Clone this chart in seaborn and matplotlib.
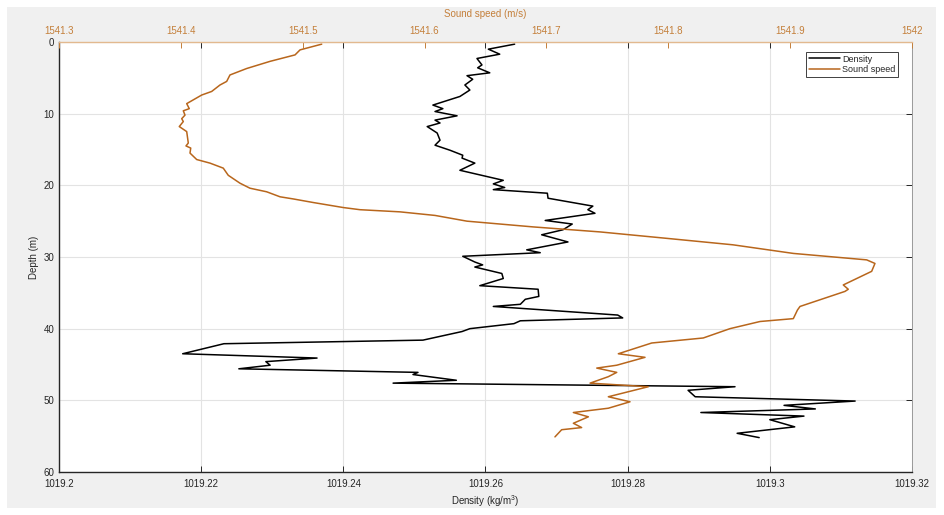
# Perfil vertical: densidad y velocidad del sonido frente a profundidad
import pandas as pd
import seaborn as sns
import matplotlib
matplotlib.use("Agg")
import matplotlib.pyplot as plt
from matplotlib.patches import Rectangle

# ---- datos ----
depth_dens = [0.3, 1.0, 1.7, 2.3, 3.2, 3.6, 4.3, 4.7, 5.2, 6.0, 6.7, 7.6, 8.8, 9.3, 9.7,
              10.3, 10.9, 11.3, 11.8, 12.7, 13.7, 14.4, 15.1, 15.8, 16.2, 16.9, 17.9,
              19.3, 19.8, 20.3, 20.6, 21.1, 21.8, 22.9, 23.4, 23.9, 24.9, 25.4, 26.2,
              26.9, 27.9, 29.0, 29.4, 29.9, 30.7, 31.1, 31.4, 32.3, 33.0, 34.0, 34.5,
              35.5, 35.9, 36.6, 36.9, 38.1, 38.5, 38.9, 39.3, 40.0, 40.4, 41.6, 42.1,
              43.5, 44.1, 44.6, 45.1, 45.6, 46.1, 46.4, 47.2, 47.6, 48.1, 48.6, 49.5,
              50.1, 50.7, 51.2, 51.7, 52.2, 52.7, 53.7, 54.6, 55.2]
density = [1019.2641, 1019.2604, 1019.2620, 1019.2588, 1019.2595, 1019.2589, 1019.2606,
           1019.2574, 1019.2582, 1019.2571, 1019.2578, 1019.2564, 1019.2526, 1019.2540,
           1019.2529, 1019.2560, 1019.2529, 1019.2536, 1019.2518, 1019.2532, 1019.2536,
           1019.2529, 1019.2550, 1019.2568, 1019.2567, 1019.2585, 1019.2564, 1019.2625,
           1019.2611, 1019.2627, 1019.2611, 1019.2687, 1019.2688, 1019.2751, 1019.2744,
           1019.2754, 1019.2684, 1019.2722, 1019.2709, 1019.2679, 1019.2716, 1019.2658,
           1019.2677, 1019.2568, 1019.2585, 1019.2596, 1019.2585, 1019.2623, 1019.2625,
           1019.2592, 1019.2674, 1019.2675, 1019.2656, 1019.2649, 1019.2611, 1019.2786,
           1019.2793, 1019.2649, 1019.2640, 1019.2578, 1019.2567, 1019.2512, 1019.2232,
           1019.2174, 1019.2363, 1019.2291, 1019.2297, 1019.2253, 1019.2505, 1019.2498,
           1019.2559, 1019.2470, 1019.2951, 1019.2885, 1019.2895, 1019.3120, 1019.3020,
           1019.3064, 1019.2903, 1019.3048, 1019.3000, 1019.3035, 1019.2954, 1019.2985]

depth_sound = [0.3, 1.1, 1.8, 2.7, 3.7, 4.6, 5.5, 6.0, 6.9, 7.4, 8.6, 9.3, 9.6, 10.2, 10.7,
               11.1, 11.8, 12.5, 14.1, 14.5, 14.8, 15.5, 16.4, 16.9, 17.6, 18.6, 19.7,
               20.4, 20.9, 21.6, 21.9, 22.4, 23.1, 23.4, 23.7, 24.2, 25.0, 25.8, 26.5,
               27.4, 28.3, 29.5, 30.4, 30.9, 32.0, 33.9, 34.5, 34.8, 36.9, 37.4, 38.6,
               39.0, 40.0, 41.3, 42.0, 43.5, 44.0, 45.1, 45.5, 46.1, 46.7, 47.6, 48.1,
               49.5, 50.2, 51.1, 51.7, 52.3, 53.2, 53.8, 54.1, 55.1]
sound_speed = [1541.5156, 1541.4978, 1541.4937, 1541.4732, 1541.4540, 1541.4403, 1541.4376,
               1541.4321, 1541.4253, 1541.4171, 1541.4048, 1541.4069, 1541.4020, 1541.4034,
               1541.4007, 1541.4020, 1541.3987, 1541.4048, 1541.4061, 1541.4042, 1541.4081,
               1541.4075, 1541.4130, 1541.4239, 1541.4348, 1541.4389, 1541.4485, 1541.4567,
               1541.4704, 1541.4814, 1541.4923, 1541.5087, 1541.5333, 1541.5470, 1541.5798,
               1541.6086, 1541.6348, 1541.6890, 1541.7440, 1541.7989, 1541.8531, 1541.9026,
               1541.9628, 1541.9696, 1541.9669, 1541.9436, 1541.9477, 1541.9450, 1541.9081,
               1541.9060, 1541.9026, 1541.8753, 1541.8506, 1541.8287, 1541.7864, 1541.7590,
               1541.7809, 1541.7577, 1541.7413, 1541.7577, 1541.7508, 1541.7358, 1541.7836,
               1541.7508, 1541.7686, 1541.7508, 1541.7221, 1541.7344, 1541.7221, 1541.7289,
               1541.7125, 1541.7070]

density_ticks = [1019.2, 1019.22, 1019.24, 1019.26, 1019.28, 1019.3, 1019.32]
sound_ticks = [1541.3, 1541.4, 1541.5, 1541.6, 1541.7, 1541.8, 1541.9, 1542]
depth_ticks = [0, 10, 20, 30, 40, 50, 60]

dens_df = pd.DataFrame({"Depth": depth_dens, "Density": density})
sound_df = pd.DataFrame({"Depth": depth_sound, "Sound speed": sound_speed})

# ---- estilo ----
sns.set_theme(style="white")
plt.rcParams["font.family"] = ["Liberation Sans", "DejaVu Sans"]
plt.rcParams["mathtext.default"] = "regular"

orange = "#b8661c"
orange_txt = "#c47f3a"
dark = "#262626"

fig = plt.figure(figsize=(9.44, 5.15), dpi=100, facecolor="white")
# fondo gris estilo MATLAB
fig.patches.append(Rectangle((7 / 944, 7 / 515), 929 / 944, 501 / 515,
                             transform=fig.transFigure, facecolor="#f0f0f0",
                             edgecolor="none", zorder=-1))
ax = fig.add_axes([59 / 944, 1 - 472 / 515, 853 / 944, 430 / 515])
ax.set_facecolor("white")

sns.lineplot(data=dens_df, x="Density", y="Depth", sort=False, estimator=None,
             color="black", lw=1.1, ax=ax, label="Density")
ax.set_xlim(1019.2, 1019.32)
ax.set_ylim(60, 0)
ax.set_xticks(density_ticks)
ax.set_xticklabels([f"{t:g}" for t in density_ticks])
ax.set_yticks(depth_ticks)
ax.grid(True, color="#e3e3e3", lw=0.8)
ax.set_xlabel("Density (kg/m$^3$)", fontsize=7, color=dark, labelpad=3)
ax.set_ylabel("Depth (m)", fontsize=7, color=dark, labelpad=3)

# eje superior: velocidad del sonido
ax2 = ax.twiny()
sns.lineplot(data=sound_df, x="Sound speed", y="Depth", sort=False, estimator=None,
             color=orange, lw=1.1, ax=ax2, label="Sound speed")
ax2.set_xlim(1541.3, 1542)
ax2.set_ylim(60, 0)
ax2.set_xticks(sound_ticks)
ax2.set_xticklabels([f"{t:g}" for t in sound_ticks])
ax2.set_xlabel("Sound speed (m/s)", fontsize=7, color=orange_txt, labelpad=7)
ax2.grid(False)

ax.tick_params(axis="both", direction="in", length=4, width=0.7, labelsize=7,
               colors=dark, top=True, right=True, labeltop=False)
ax.tick_params(axis="x", pad=5)
ax2.tick_params(axis="x", direction="in", length=4, width=0.7, labelsize=7,
                colors=orange_txt, pad=4)

for s in ["left", "bottom"]:
    ax.spines[s].set_color(dark)
    ax.spines[s].set_linewidth(1.0)
ax.spines["right"].set_color("#9a9a9a")
ax.spines["right"].set_linewidth(0.7)
ax.spines["top"].set_visible(False)
for s in ["left", "bottom", "right"]:
    ax2.spines[s].set_visible(False)
ax2.spines["top"].set_color("#e2b98f")
ax2.spines["top"].set_linewidth(1.0)

# leyenda combinada
h1, l1 = ax.get_legend_handles_labels()
h2, l2 = ax2.get_legend_handles_labels()
if ax.get_legend() is not None:
    ax.get_legend().remove()
leg = ax2.legend(h1 + h2, l1 + l2, loc="upper right",
                 bbox_to_anchor=(0.984, 0.977), borderaxespad=0, fontsize=6.5,
                 frameon=True, fancybox=False, framealpha=1, edgecolor="#404040",
                 handlelength=3.4, handletextpad=0.3, borderpad=0.3,
                 labelspacing=0.15)
leg.get_frame().set_linewidth(0.7)

fig.savefig("out.png", dpi=100)
